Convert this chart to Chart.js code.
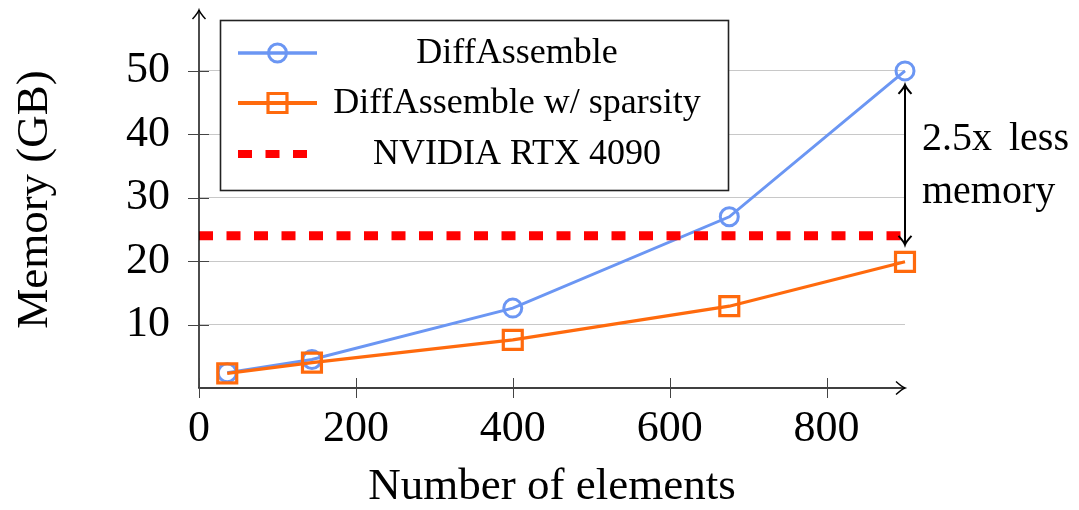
<!DOCTYPE html>
<html><head><meta charset="utf-8">
<script src="https://cdn.jsdelivr.net/npm/chart.js@4"></script>
<style>html,body{margin:0;padding:0;background:#fff;}</style>
</head><body>
<canvas id="c" width="1079" height="510" style="display:block;width:1079px;height:510px"></canvas>
<script>
// ---- data ----
const elements = [36, 144, 400, 676, 900];
const diffAssemble = [2.4, 4.5, 12.6, 27.0, 50.0];
const diffAssembleSparse = [2.3, 4.0, 7.6, 12.9, 19.9];
const gpuLimit = 24;
const gpuSpan = [0, 900];
const xTicks = [0, 200, 400, 600, 800];
const yTicks = [10, 20, 30, 40, 50];
const seriesLabels = ['DiffAssemble', 'DiffAssemble w/ sparsity', 'NVIDIA RTX 4090'];
const xTitle = 'Number of elements';
const yTitle = 'Memory (GB)';
const noteWords = ['2.5x', 'less', 'memory'];
const gapTop = 50, gapBottom = 24;

const FONT = "'Liberation Serif', 'Times New Roman', serif";
const BLUE = '#6b96f3', ORANGE = '#ff6a0d', RED = '#ff0000';

const toXY = (xs, ys) => xs.map((x, i) => ({x, y: ys[i]}));

function arrowHead(ctx, x, y, dir) {
  ctx.beginPath();
  if (dir === 'up') {
    ctx.moveTo(x - 6.5, y + 9); ctx.quadraticCurveTo(x - 1, y + 3, x, y); ctx.quadraticCurveTo(x + 1, y + 3, x + 6.5, y + 9);
  } else if (dir === 'down') {
    ctx.moveTo(x - 6.5, y - 9); ctx.quadraticCurveTo(x - 1, y - 3, x, y); ctx.quadraticCurveTo(x + 1, y - 3, x + 6.5, y - 9);
  } else {
    ctx.moveTo(x - 9, y - 6.5); ctx.quadraticCurveTo(x - 3, y - 1, x, y); ctx.quadraticCurveTo(x - 3, y + 1, x - 9, y + 6.5);
  }
  ctx.stroke();
}

const decor = {
  id: 'decor',
  afterDraw(chart) {
    const ctx = chart.ctx;
    const xs = chart.scales.x, ys = chart.scales.y;
    const ca = chart.chartArea;
    const x0 = xs.getPixelForValue(0), y0 = ys.getPixelForValue(0);
    ctx.save();
    ctx.strokeStyle = '#000'; ctx.lineWidth = 1.4; ctx.lineCap = 'butt';
    ctx.beginPath(); ctx.moveTo(x0, y0 + 0.5); ctx.lineTo(x0, ca.top - 1); ctx.stroke();
    ctx.beginPath(); ctx.moveTo(x0 - 0.5, y0); ctx.lineTo(ca.right, y0); ctx.stroke();
    arrowHead(ctx, x0, ca.top - 1, 'up');
    arrowHead(ctx, ca.right, y0, 'right');
    ctx.strokeStyle = '#444'; ctx.lineWidth = 1;
    yTicks.forEach(v => { const p = Math.round(ys.getPixelForValue(v)) + 0.5; ctx.beginPath(); ctx.moveTo(x0 - 11, p); ctx.lineTo(x0 + 10, p); ctx.stroke(); });
    xTicks.forEach(v => { const p = Math.round(xs.getPixelForValue(v)) + 0.5; ctx.beginPath(); ctx.moveTo(p, y0 - 10); ctx.lineTo(p, y0 + 10); ctx.stroke(); });

    // legend box
    const L = {x: 220, y: 20, w: 508, h: 170};
    ctx.fillStyle = '#fff'; ctx.fillRect(L.x, L.y, L.w, L.h);
    ctx.strokeStyle = '#222'; ctx.lineWidth = 1.6; ctx.strokeRect(L.x + 0.5, L.y + 0.5, L.w, L.h);
    const rows = [53, 103, 154];
    const sx0 = 238, sx1 = 317, sxm = (sx0 + sx1) / 2;
    chart.data.datasets.forEach((ds) => {
      const ry = rows[ds.legendIndex];
      ctx.save();
      ctx.strokeStyle = ds.borderColor;
      if (ds.pointRadius === 0) {
        ctx.lineWidth = 8; ctx.setLineDash(ds.borderDash);
        ctx.beginPath(); ctx.moveTo(sx0, ry); ctx.lineTo(308, ry); ctx.stroke();
      } else {
        ctx.lineWidth = ds.borderWidth + 0.6;
        ctx.beginPath(); ctx.moveTo(sx0, ry); ctx.lineTo(sx1, ry); ctx.stroke();
        ctx.lineWidth = ds.pointBorderWidth;
        ctx.beginPath();
        if (ds.pointStyle === 'circle') ctx.arc(sxm, ry, ds.pointRadius, 0, Math.PI * 2);
        else { const s = ds.pointRadius * Math.SQRT1_2; ctx.rect(sxm - s, ry - s, 2 * s, 2 * s); }
        ctx.stroke();
      }
      ctx.restore();
      ctx.fillStyle = '#000'; ctx.font = '36px ' + FONT; ctx.textAlign = 'center'; ctx.textBaseline = 'middle';
      ctx.fillText(ds.label, 517, ry + 1);
    });

    // annotation
    const ax = xs.getPixelForValue(gpuSpan[1]);
    const ay1 = ys.getPixelForValue(gapTop) + 14, ay2 = ys.getPixelForValue(gapBottom) + 9;
    ctx.strokeStyle = '#000'; ctx.lineWidth = 2; ctx.setLineDash([]);
    ctx.beginPath(); ctx.moveTo(ax, ay1); ctx.lineTo(ax, ay2); ctx.stroke();
    arrowHead(ctx, ax, ay1, 'up'); arrowHead(ctx, ax, ay2, 'down');
    ctx.fillStyle = '#000'; ctx.font = '40px ' + FONT; ctx.textAlign = 'left'; ctx.textBaseline = 'alphabetic';
    const tx = ax + 17;
    ctx.fillText(noteWords[0], tx, 150);
    ctx.fillText(noteWords[1], tx + ctx.measureText(noteWords[0]).width + 17, 150);
    ctx.fillText(noteWords[2], tx, 203);
    ctx.restore();
  }
};

new Chart(document.getElementById('c'), {
  type: 'line',
  data: {
    datasets: [
      {label: seriesLabels[0], legendIndex: 0, data: toXY(elements, diffAssemble), borderColor: BLUE, borderWidth: 3,
       pointStyle: 'circle', pointRadius: 9, pointBorderWidth: 3, pointBorderColor: BLUE, pointBackgroundColor: 'rgba(0,0,0,0)',
       tension: 0, clip: false, order: 2},
      {label: seriesLabels[1], legendIndex: 1, data: toXY(elements, diffAssembleSparse), borderColor: ORANGE, borderWidth: 3.2,
       pointStyle: 'rect', pointRadius: 13.4, pointBorderWidth: 3.2, pointBorderColor: ORANGE, pointBackgroundColor: 'rgba(0,0,0,0)',
       tension: 0, clip: false, order: 1},
      {label: seriesLabels[2], legendIndex: 2, data: toXY(gpuSpan, [gpuLimit, gpuLimit]), borderColor: RED, borderWidth: 9,
       borderDash: [14, 13.5], borderCapStyle: 'butt', pointRadius: 0, tension: 0, clip: false, order: 0}
    ]
  },
  options: {
    responsive: false, animation: false, devicePixelRatio: 1,
    layout: {autoPadding: false, padding: {top: 11, right: 174, left: 0, bottom: 0}},
    plugins: {legend: {display: false}, tooltip: {enabled: false}},
    scales: {
      x: {
        type: 'linear', min: 0, max: 900,
        afterBuildTicks: s => { s.ticks = xTicks.map(v => ({value: v})); },
        afterFit: s => { s.height = 122; s.paddingLeft = 0; s.paddingRight = 0; },
        grid: {display: false, drawTicks: false},
        border: {display: false},
        ticks: {color: '#000', font: {family: FONT, size: 44}, padding: 15, autoSkip: false, maxRotation: 0},
        title: {display: true, text: xTitle, color: '#000', font: {family: FONT, size: 45, lineHeight: 1}, padding: {top: 0, bottom: 0}}
      },
      y: {
        type: 'linear', min: 0, max: 59.45,
        afterBuildTicks: s => { s.ticks = yTicks.map(v => ({value: v})); },
        afterFit: s => { s.width = 199; s.paddingTop = 0; s.paddingBottom = 0; },
        grid: {color: '#c8c8c8', lineWidth: 1, drawTicks: false},
        border: {display: false},
        ticks: {color: '#000', font: {family: FONT, size: 44}, padding: 29, autoSkip: false},
        title: {display: true, text: yTitle, color: '#000', font: {family: FONT, size: 45, lineHeight: 1}, padding: {top: 13, bottom: 0}}
      }
    }
  },
  plugins: [decor]
});
</script>
</body></html>
